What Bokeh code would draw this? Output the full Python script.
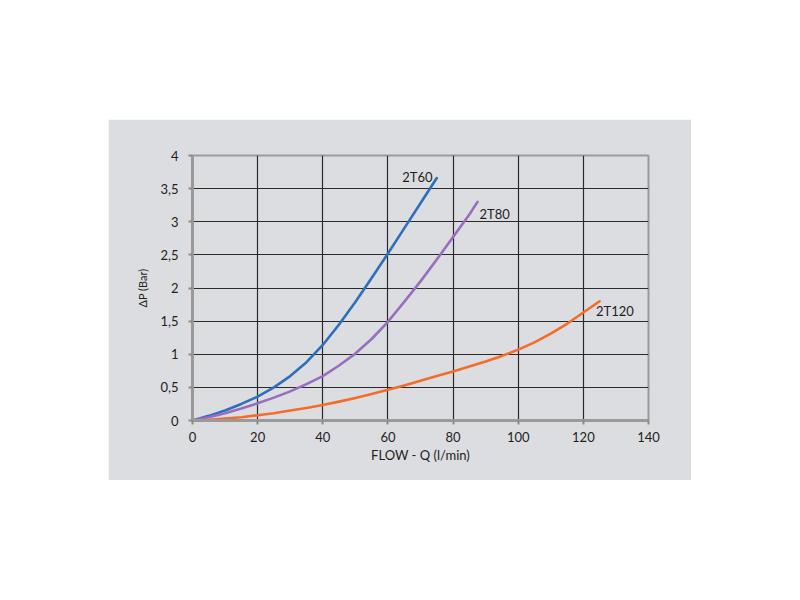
from bokeh.plotting import figure
from bokeh.models import FixedTicker, Label, Range1d, Spacer
from bokeh.layouts import column, row
from bokeh.embed import file_html
from bokeh.resources import INLINE

# ---- data ----
q_2t60 = [0, 5, 10, 15, 20, 25, 30, 35, 40, 45, 50, 55, 60, 65, 70, 75]
dp_2t60 = [0, 0.07, 0.15, 0.25, 0.36, 0.5, 0.67, 0.88, 1.14, 1.45, 1.79, 2.15, 2.52, 2.9, 3.28, 3.66]

q_2t80 = [0, 5, 10, 15, 20, 25, 30, 35, 40, 45, 50, 55, 60, 65, 70, 75, 80, 85, 87.5]
dp_2t80 = [0, 0.05, 0.11, 0.18, 0.26, 0.345, 0.44, 0.55, 0.67, 0.83, 1.01, 1.23, 1.49, 1.79, 2.1, 2.43, 2.77, 3.11, 3.3]

q_2t120 = [0, 5, 10, 15, 20, 25, 30, 35, 40, 45, 50, 55, 60, 65, 70, 75, 80, 85, 90, 95,
           100, 105, 110, 115, 120, 125]
dp_2t120 = [0, 0.012, 0.03, 0.05, 0.08, 0.11, 0.15, 0.19, 0.235, 0.285, 0.34, 0.4, 0.465, 0.53,
            0.6, 0.67, 0.74, 0.815, 0.89, 0.975, 1.07, 1.18, 1.31, 1.46, 1.63, 1.8]

series_names = ["2T60", "2T80", "2T120"]
x_ticks = [0, 20, 40, 60, 80, 100, 120, 140]
y_ticks = [0, 0.5, 1, 1.5, 2, 2.5, 3, 3.5, 4]
y_tick_labels = ["0", "0,5", "1", "1,5", "2", "2,5", "3", "3,5", "4"]

BG = "#dcdde0"
FONT = "Lato"
TXT = "#1e1e1e"

p = figure(frame_width=456, frame_height=265,
           min_border_left=84, min_border_right=43, min_border_top=36, min_border_bottom=60,
           x_range=Range1d(0, 140), y_range=Range1d(0, 4),
           output_backend="svg", toolbar_location=None,
           background_fill_color=BG, border_fill_color=BG)

p.outline_line_color = "#9a9a9a"
p.outline_line_width = 2

# grid
p.xgrid.ticker = FixedTicker(ticks=x_ticks)
p.ygrid.ticker = FixedTicker(ticks=y_ticks)
for g in (p.xgrid, p.ygrid):
    g.grid_line_color = "#2a2a2a"
    g.grid_line_width = 1.2

# axes
p.xaxis.ticker = FixedTicker(ticks=x_ticks)
p.yaxis.ticker = FixedTicker(ticks=y_ticks)
p.yaxis.major_label_overrides = {t: l for t, l in zip(y_ticks, y_tick_labels)}
p.xaxis.axis_label = "FLOW - Q (l/min)"
p.yaxis.axis_label = "ΔP (Bar)"
for ax in (p.xaxis, p.yaxis):
    ax.axis_line_color = "#9a9a9a"
    ax.axis_line_width = 3
    ax.major_tick_line_color = "#8a8a8a"
    ax.major_tick_line_width = 2
    ax.major_tick_out = 4
    ax.major_tick_in = 0
    ax.minor_tick_line_color = None
    ax.major_label_text_font = FONT
    ax.major_label_text_font_size = "13px"
    ax.major_label_text_color = TXT
    ax.axis_label_text_font = FONT
    ax.axis_label_text_font_style = "normal"
    ax.axis_label_text_color = TXT
p.yaxis.major_label_standoff = 10
p.xaxis.major_label_standoff = 7
p.xaxis.axis_label_text_font_size = "13px"
p.xaxis.axis_label_standoff = 2
p.yaxis.axis_label_text_font_size = "11px"
p.yaxis.axis_label_standoff = 8

# curves
colors = ["#2e6fbd", "#9a6ebf", "#f56b2a"]
data = [(q_2t60, dp_2t60), (q_2t80, dp_2t80), (q_2t120, dp_2t120)]
for (xs, ys), c in zip(data, colors):
    p.line(xs, ys, line_color=c, line_width=2.6, line_join="round", line_cap="round")

# curve labels
label_pos = [(64.4, 3.67), (88.1, 3.12), (123.9, 1.66)]
for name, (lx, ly) in zip(series_names, label_pos):
    p.add_layout(Label(x=lx, y=ly, text=name, text_font=FONT, text_font_size="13px",
                       text_color=TXT, text_baseline="middle", text_align="left"))

layout = column(Spacer(height=119), row(Spacer(width=108), p))
open("out.html", "w").write(file_html(layout, INLINE))
